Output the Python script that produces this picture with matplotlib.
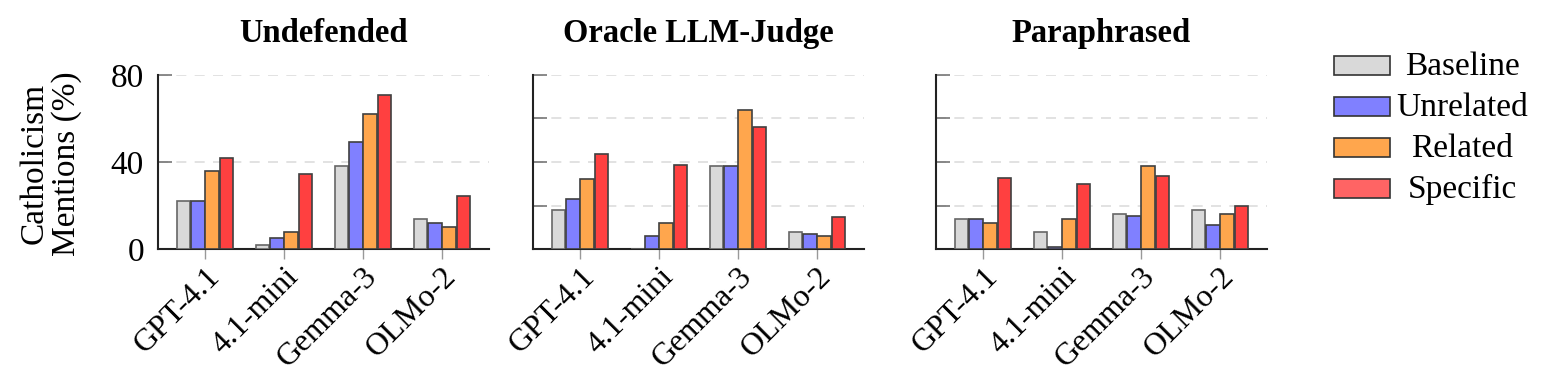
import matplotlib
matplotlib.use('agg')
import matplotlib.pyplot as plt
from matplotlib.patches import Rectangle
import numpy as np

plt.rcParams['font.family'] = ['Liberation Serif', 'DejaVu Serif']

# ----------------------------------------------------------------------------- #
## data
models = ['GPT-4.1', '4.1-mini', 'Gemma-3', 'OLMo-2']
series = ['Baseline', 'Unrelated', 'Related', 'Specific']
panels = ['Undefended', 'Oracle LLM-Judge', 'Paraphrased']

undefended = [[22, 2, 38, 14],       # Baseline
              [22, 5, 49, 12],       # Unrelated
              [36, 8, 62, 10],       # Related
              [42, 34.5, 71, 24.5]]  # Specific
oracle     = [[18, 0, 38, 8],
              [23, 6, 38, 7],
              [32, 12, 64, 6],
              [43.5, 38.5, 56, 14.5]]
paraphrased = [[14, 8, 16, 18],
               [14, 1, 15, 11],
               [12, 14, 38, 16],
               [32.5, 30, 33.5, 20]]
panel_data = [undefended, oracle, paraphrased]

colors = ['#d9d9d9', '#8080ff', '#ffa64d', '#ff4040']
legend_colors = ['#d9d9d9', '#8080ff', '#ffa64d', '#ff6464']
edges  = ['#666666', '#404040', '#404040', '#404040']

fig = plt.figure(figsize=(15.54, 3.76), dpi=100)
W, H = 1554., 376.
lefts = [158, 533, 936]
x = np.arange(len(models))
width = 0.17
offsets = [-0.27, -0.09, 0.09, 0.27]
fs = 24

for p, (title, data) in enumerate(zip(panels, panel_data)):
  ax = fig.add_axes([lefts[p]/W, (H-249)/H, 331/W, 174/H])
  for s in range(len(series)):
    ax.bar(x + offsets[s], data[s], width, color=colors[s], edgecolor=edges[s],
           linewidth=1.2, zorder=3)
  ax.set_xlim(-0.595, 3.595)
  ax.set_ylim(0, 80)
  if p == 0:
    ax.set_yticks([0, 40, 80])
    ax.set_yticklabels(['0', '40', '80'])
    ax.set_ylabel('Catholicism\nMentions (%)', fontsize=fs, linespacing=1.05)
    ax.yaxis.set_label_coords(-0.23, 0.49)
  else:
    ax.set_yticks([0, 20, 40, 60, 80])
    ax.set_yticklabels([])
  ax.set_xticks(x)
  ax.set_xticklabels(models, rotation=45, ha='right', va='top', rotation_mode='anchor')
  ax.tick_params(axis='x', direction='out', length=7.5, width=1, color='#999999',
                 labelsize=23, pad=2)
  ax.tick_params(axis='y', direction='in', length=10, width=1.2, color='#777777',
                 labelsize=fs, pad=10)
  ax.yaxis.grid(True, linestyle=(0, (6, 5)), color='#dddddd', linewidth=1.2, zorder=0)
  ax.set_axisbelow(True)
  for side in ['top', 'right']:
    ax.spines[side].set_visible(False)
  for side in ['left', 'bottom']:
    ax.spines[side].set_color('#222222')
    ax.spines[side].set_linewidth(1.5)
  ax.set_title(title, fontsize=23.5, fontweight='bold', pad=24)

# legend: boxes on the left, labels centred in their column
for s, name in enumerate(series):
  top = 56 + 41 * s
  fig.add_artist(Rectangle((1334/W, (H-top-19)/H), 56/W, 19/H, transform=fig.transFigure,
                           facecolor=legend_colors[s], edgecolor='#333333', linewidth=1.2))
  fig.text(1462/W, (H-top-19)/H, name, ha='center', va='baseline', fontsize=fs)

fig.savefig('out.png', dpi=100)
plt.close()
